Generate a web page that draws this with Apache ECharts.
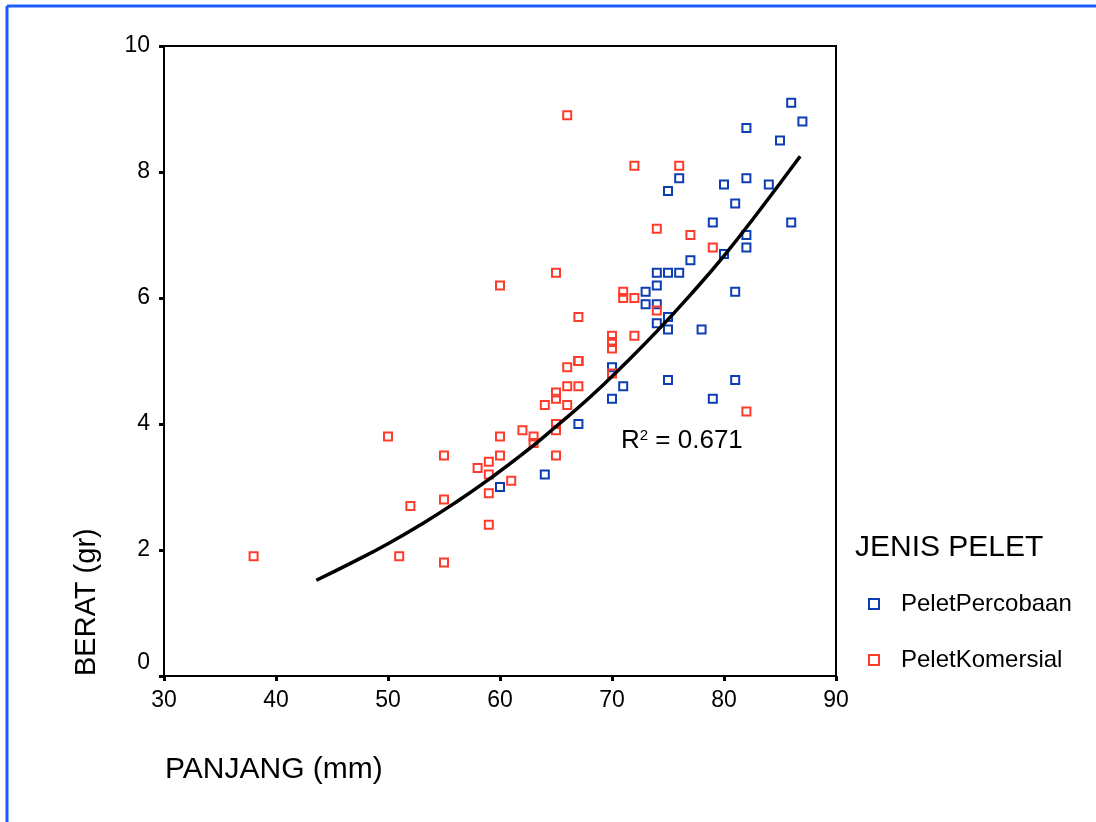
<!DOCTYPE html>
<html>
<head>
<meta charset="utf-8">
<script src="https://cdn.jsdelivr.net/npm/echarts@6/dist/echarts.min.js"></script>
<style>
html,body{margin:0;padding:0;background:#fff;}
#c{width:1096px;height:822px;}
</style>
</head>
<body>
<div id="c"></div>
<script>
// PeletPercobaan (blue)
var percobaanX = [86, 87, 82, 85, 76, 82, 75, 80, 84, 81, 79, 86, 82, 82, 80, 77, 74, 75, 76, 74, 73, 81, 73, 74, 75, 74, 75, 78, 70, 67, 71, 75, 81, 70, 79, 67, 64, 60];
var percobaanY = [9.1, 8.8, 8.7, 8.5, 7.9, 7.9, 7.7, 7.8, 7.8, 7.5, 7.2, 7.2, 7.0, 6.8, 6.7, 6.6, 6.4, 6.4, 6.4, 6.2, 6.1, 6.1, 5.9, 5.9, 5.7, 5.6, 5.5, 5.5, 4.9, 5.0, 4.6, 4.7, 4.7, 4.4, 4.4, 4.0, 3.2, 3.0];
// PeletKomersial (red)
var komersialX = [66, 72, 76, 74, 77, 79, 65, 60, 71, 71, 72, 74, 67, 72, 70, 70, 70, 67, 66, 70, 66, 67, 65, 65, 64, 66, 82, 65, 65, 62, 63, 60, 50, 63, 60, 55, 65, 59, 58, 59, 61, 59, 55, 52, 59, 38, 51, 55];
var komersialY = [8.9, 8.1, 8.1, 7.1, 7.0, 6.8, 6.4, 6.2, 6.1, 6.0, 6.0, 5.8, 5.7, 5.4, 5.4, 5.3, 5.2, 5.0, 4.9, 4.8, 4.6, 4.6, 4.5, 4.4, 4.3, 4.3, 4.2, 4.0, 3.9, 3.9, 3.8, 3.8, 3.8, 3.7, 3.5, 3.5, 3.5, 3.4, 3.3, 3.2, 3.1, 2.9, 2.8, 2.7, 2.4, 1.9, 1.9, 1.8];
// fitted curve
var fitX = [43.6, 47, 50, 53, 56, 59, 62, 65, 68, 71, 74, 77, 80, 83, 86.8];
var fitY = [1.52, 1.82, 2.10, 2.41, 2.75, 3.12, 3.52, 3.96, 4.42, 4.93, 5.47, 6.05, 6.67, 7.35, 8.25];
var xTicks = [30, 40, 50, 60, 70, 80, 90];
var yTicks = [0, 2, 4, 6, 8, 10];
var seriesNames = ['PeletPercobaan', 'PeletKomersial'];
var legendTitle = 'JENIS PELET';
var xName = 'PANJANG (mm)';
var yName = 'BERAT (gr)';
var rSquared = '0.671';

function pairs(xs, ys) { return xs.map(function (x, i) { return [x, ys[i]]; }); }

var FONT = '"Liberation Sans", Arial, sans-serif';
var BLUE = '#0d3db3';
var RED = '#ff3b2b';

var chart = echarts.init(document.getElementById('c'), null, {renderer: 'canvas'});
chart.setOption({
  animation: false,
  backgroundColor: '#fff',
  textStyle: {fontFamily: FONT},
  grid: {left: 164, top: 46, width: 672, height: 630, show: true, borderColor: '#000', borderWidth: 2, backgroundColor: 'transparent'},
  xAxis: {
    type: 'value', min: xTicks[0], max: xTicks[xTicks.length - 1], interval: 10,
    axisLine: {show: true, lineStyle: {color: '#000', width: 2}},
    axisTick: {show: true, inside: false, length: 5, lineStyle: {color: '#000', width: 3}},
    axisLabel: {color: '#000', fontSize: 23, fontFamily: FONT, margin: 13},
    splitLine: {show: false}
  },
  yAxis: {
    type: 'value', min: yTicks[0], max: yTicks[yTicks.length - 1], interval: 2,
    axisLine: {show: true, lineStyle: {color: '#000', width: 2}},
    axisTick: {show: true, inside: false, length: 5, lineStyle: {color: '#000', width: 3}},
    axisLabel: {
      color: '#000', fontSize: 23, fontFamily: FONT, margin: 14,
      formatter: function (v) { return v === yTicks[0] ? '{z|' + v + '}' : String(v); },
      rich: {z: {fontSize: 23, fontFamily: FONT, color: '#000', padding: [0, 0, 26, 0]}}
    },
    splitLine: {show: false}
  },
  legend: {
    data: seriesNames,
    orient: 'vertical',
    left: 868, top: 592, padding: 0,
    itemWidth: 10, itemHeight: 10, itemGap: 32,
    textStyle: {color: '#000', fontSize: 24, fontFamily: FONT, padding: [0, 0, 0, 17]},
    selectedMode: false
  },
  graphic: [
    {type: 'line', shape: {x1: 7, y1: 6, x2: 1096, y2: 6}, style: {stroke: '#1c5cff', lineWidth: 3}},
    {type: 'line', shape: {x1: 7, y1: 6, x2: 7, y2: 822}, style: {stroke: '#1c5cff', lineWidth: 3}},
    {type: 'text', x: 855, y: 548, style: {text: legendTitle, font: '30px ' + FONT, fill: '#000', textAlign: 'left', textVerticalAlign: 'middle'}},
    {type: 'text', x: 165, y: 770, style: {text: xName, font: '30px ' + FONT, fill: '#000', textAlign: 'left', textVerticalAlign: 'middle'}},
    {type: 'text', x: 87, y: 676, rotation: Math.PI / 2, style: {text: yName, font: '29px ' + FONT, fill: '#000', textAlign: 'left', textVerticalAlign: 'middle'}},
    {type: 'text', x: 621, y: 441, style: {
      text: '{r|R}{s|2}{r| = ' + rSquared + '}', textVerticalAlign: 'middle', textAlign: 'left',
      rich: {r: {fontSize: 26, fontFamily: FONT, color: '#000'}, s: {fontSize: 15, fontFamily: FONT, color: '#000', verticalAlign: 'top', padding: [0, 0, 10, 0]}}
    }}
  ],
  series: [
    {
      name: seriesNames[0], type: 'scatter', data: pairs(percobaanX, percobaanY),
      symbol: 'rect', symbolSize: 8,
      itemStyle: {color: '#fff', borderColor: BLUE, borderWidth: 2, opacity: 1},
      z: 2
    },
    {
      name: seriesNames[1], type: 'scatter', data: pairs(komersialX, komersialY),
      symbol: 'rect', symbolSize: 8,
      itemStyle: {color: 'rgba(255,255,255,0)', borderColor: RED, borderWidth: 2, opacity: 1},
      z: 3
    },
    {
      name: 'fit', type: 'line', data: pairs(fitX, fitY), smooth: true,
      showSymbol: false, symbol: 'none',
      lineStyle: {color: '#000', width: 3.5},
      z: 4
    }
  ]
});
</script>
</body>
</html>
